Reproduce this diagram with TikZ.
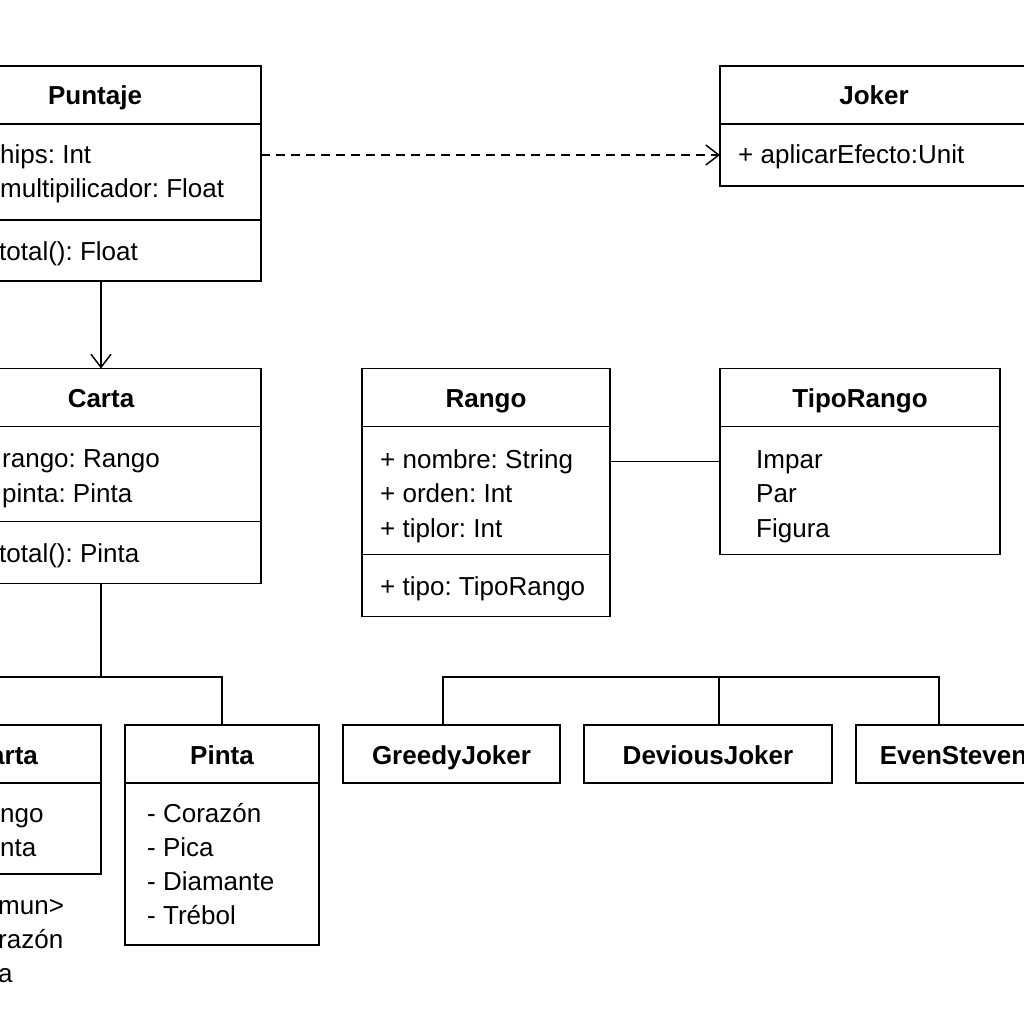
\documentclass[tikz,border=0pt]{standalone}
\usepackage{fontspec}
\setmainfont{Liberation Sans}
\usetikzlibrary{arrows.meta,positioning}

\newcommand\umlfont{\fontsize{26pt}{34pt}\selectfont\frenchspacing}

\tikzset{
  cls/.style={draw, line width=1.8pt, inner sep=0pt, outer sep=0pt, minimum height=58pt,
    text height=22pt, text depth=2pt, font=\umlfont\bfseries},
  cmp/.style={draw, line width=1.8pt, inner sep=0pt, outer sep=0pt},
  txt/.style={anchor=base west, inner sep=0pt, font=\umlfont},
  link/.style={line width=1.5pt},
  open/.style={-{Straight Barb[length=13pt, width=20pt]}},
}

\begin{document}
\begin{tikzpicture}[x=1pt, y=-1pt]
\useasboundingbox (0,0) rectangle (1024,1024);
\clip (0,0) rectangle (1024,1024);

% Puntaje
\node[cls, minimum width=332pt] (puntaje) at (95,95) {Puntaje};
\node[cmp, minimum width=332pt, minimum height=96pt, below=0pt of puntaje] (puntajeA) {};
\node[cmp, minimum width=332pt, minimum height=61pt, below=0pt of puntajeA] (puntajeM) {};
\foreach \t [count=\i] in {hips: Int, multipilicador: Float}
  \node[txt] (puntaje-a\i) at (0,130+34*\i) {\t};
\node[txt] (puntaje-m1) at (-1,260) {total(): Float};

% Joker
\node[cls, minimum width=308pt] (joker) at (874,95) {Joker};
\node[cmp, minimum width=308pt, minimum height=62pt, below=0pt of joker] (jokerA) {};
\node[txt] (joker-a1) at (738,164) {+ aplicarEfecto:Unit};

% Carta
\node[cls, minimum width=320pt] (carta) at (101,397.5) {Carta};
\node[cmp, minimum width=320pt, minimum height=95pt, below=0pt of carta] (cartaA) {};
\node[cmp, minimum width=320pt, minimum height=62pt, below=0pt of cartaA] (cartaM) {};
\foreach \t [count=\i] in {rango: Rango, pinta: Pinta}
  \node[txt] (carta-a\i) at (2,433+34.5*\i) {\t};
\node[txt] (carta-m1) at (-1,562) {total(): Pinta};

% Rango
\node[cls, minimum width=248pt] (rango) at (486,397.5) {Rango};
\node[cmp, minimum width=248pt, minimum height=128pt, below=0pt of rango] (rangoA) {};
\node[cmp, minimum width=248pt, minimum height=62pt, below=0pt of rangoA] (rangoM) {};
\foreach \t [count=\i] in {+ nombre: String, + orden: Int, + tiplor: Int}
  \node[txt] (rango-a\i) at (380,433.5+34.5*\i) {\t};
\node[txt] (rango-m1) at (380,595) {+ tipo: TipoRango};

% TipoRango
\node[cls, minimum width=280pt] (tipo) at (860,397.5) {TipoRango};
\node[cmp, minimum width=280pt, minimum height=128pt, below=0pt of tipo] (tipoA) {};
\foreach \t [count=\i] in {Impar, Par, Figura}
  \node[txt] (tipo-a\i) at (756,433.5+34.5*\i) {\t};

% Carta (cut at the left edge)
\node[cls, minimum width=301pt] (comun) at (-49.5,754) {};
\node[cmp, minimum width=301pt, minimum height=91pt, below=0pt of comun] (comunA) {};
\node[txt, font=\umlfont\bfseries] (comun-t) at (-10,764) {arta};
\foreach \t [count=\i] in {ngo, nta}
  \node[txt] (comun-a\i) at (0,788+34*\i) {\t};
\foreach \t [count=\i] in {mun>, razón, a}
  \node[txt] (comun-n\i) at (-2,880+34*\i) {\t};

% Pinta
\node[cls, minimum width=194pt] (pinta) at (222,754) {Pinta};
\node[cmp, minimum width=194pt, minimum height=162pt, below=0pt of pinta] (pintaA) {};
\foreach \t [count=\i] in {- Corazón, - Pica, - Diamante, - Trébol}
  \node[txt] (pinta-a\i) at (147,788+34*\i) {\t};

% jokers
\node[cls, minimum width=217pt] (greedy) at (451.5,754) {GreedyJoker};
\node[cls, minimum width=248pt] (devious) at (708,754) {DeviousJoker};
\node[cls, minimum width=195pt] (even) at (953.5,754) {EvenSteven};

% connectors
\draw[link, dash pattern=on 9pt off 6pt, open] (jokerA.west -| puntajeA.east) -- (jokerA.west);
\draw[link, open] (carta.north |- puntajeM.south) -- (carta.north);
\draw[link] (rangoA.east |- rango-a1) -- (tipoA.west |- rango-a1);

\coordinate (cartabus) at (101,677);
\draw[link] (cartaM.south) -- (cartabus);
\draw[link] (pinta.north) |- (cartabus) -| (comun.north);

\coordinate (jokerbus) at (719,677);
\draw[link] ([xshift=-8.5pt]greedy.north) |- (jokerbus) -| ([xshift=-14.5pt]even.north);
\draw[link] (jokerbus) -- (devious.north -| jokerbus);
\end{tikzpicture}
\end{document}
